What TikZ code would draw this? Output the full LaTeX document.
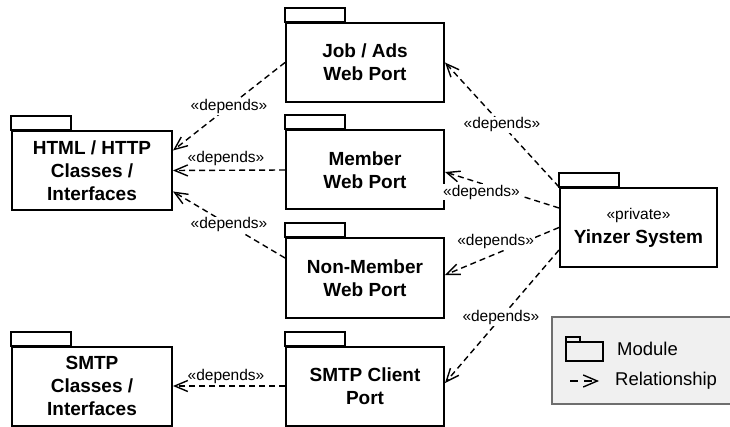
\documentclass[tikz,border=0pt]{standalone}
\usepackage{fontspec}
\setmainfont{Liberation Sans}
\usetikzlibrary{arrows.meta,calc}

\definecolor{legendfill}{HTML}{F0F0F0}
\definecolor{legendedge}{HTML}{6E6E6E}

\begin{document}
\begin{tikzpicture}[x=1pt,y=-1pt,
  pkg/.style={draw, line width=2pt, minimum width=158pt, minimum height=79pt,
    align=center, inner sep=0pt, font=\fontsize{19}{23}\selectfont\bfseries},
  pkgtab/.style={line width=2pt},
  deps/.style={dash pattern=on 6pt off 4pt, line width=1.4pt,
    -{Straight Barb[length=13pt,width=11pt,line width=1.4pt]}},
  lbl/.style={font=\fontsize{15.5}{18}\selectfont, inner sep=1pt},
  lblbg/.style={lbl, fill=white},
  legtxt/.style={font=\fontsize{18.5}{22}\selectfont, inner sep=0pt},
]
\useasboundingbox (0,0) rectangle (730,427);

% packages
\node[pkg] (job)       at (365,62.5)  {Job / Ads\\Web Port};
\node[pkg] (member)    at (365,170)   {Member\\Web Port};
\node[pkg] (nonmember) at (365,278)   {Non-Member\\Web Port};
\node[pkg] (smtpc)     at (365,386)   {SMTP Client\\Port};
\node[pkg, minimum width=160pt] (html)    at (92,170.5) {HTML / HTTP\\Classes /\\Interfaces};
\node[pkg, minimum width=160pt] (smtpcls) at (92,386)   {SMTP\\Classes /\\Interfaces};
\node[pkg, minimum width=157pt] (yinzer)  at (638.5,227.5)
  {{\fontsize{15.5}{18}\selectfont\mdseries «private»}\\[1pt]Yinzer System};

% folder tabs
\foreach \n in {job,member,nonmember,smtpc,html,smtpcls,yinzer}
  \draw[pkgtab] (\n.north west) rectangle ++(60,-14);

% dependencies
\draw[deps] (job.west) -- node[lblbg] {«depends»} ([yshift=20pt]html.east);
\draw[deps] (member.west) -- node[lbl, yshift=12pt, xshift=-3pt] {«depends»} (html.east);
\draw[deps] ([yshift=20pt]nonmember.west) -- node[lblbg] {«depends»} ([yshift=-21pt]html.east);
\draw[deps] (smtpc.west) -- node[lbl, yshift=10pt, xshift=-3pt] {«depends»} (smtpcls.east);

\draw[deps] (yinzer.north west) -- node[lblbg] {«depends»} (job.east);
\draw[deps] ([yshift=19.5pt]yinzer.west) -- node[lblbg, pos=0.68, yshift=-8.5pt] {«depends»} ([yshift=-2pt]member.east);
\draw[deps] (yinzer.west) -- node[lblbg, pos=0.556, yshift=12pt] {«depends»} ([yshift=3pt]nonmember.east);
\draw[deps] ([yshift=-22.5pt]yinzer.west) -- node[lblbg, pos=0.51] {«depends»} ([yshift=3pt]smtpc.east);

% legend, running off the right edge
\fill[legendfill] (552,317) rectangle (745,404);
\draw[legendedge, line width=1.5pt] (745,317) -- (552,317) -- (552,404) -- (745,404);
\draw[line width=1.5pt] (566,342) rectangle (603,361);
\draw[line width=1.5pt] (566,342) rectangle (580,337);
\node[legtxt, anchor=west] (legmod) at (617,349) {Module};
\coordinate (relA) at (570,381);
\coordinate (relB) at (599,381);
\draw[dash pattern=on 8pt off 6pt, line width=1.4pt,
  -{Straight Barb[length=14pt,width=12pt,line width=1.4pt]}] (relA) -- (relB);
\node[legtxt, anchor=west] (legrel) at (615,381) {Relationship};
\end{tikzpicture}
\end{document}
